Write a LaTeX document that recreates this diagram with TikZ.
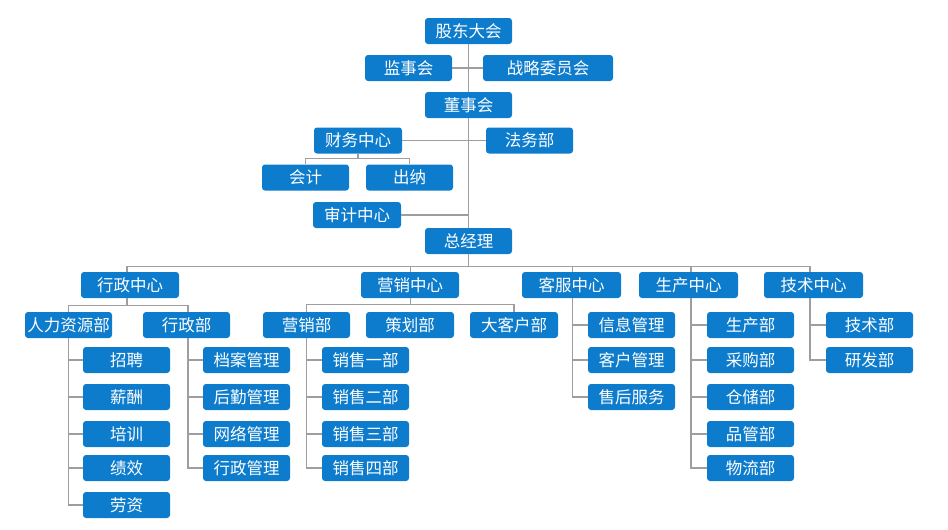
\documentclass[tikz,border=0pt]{standalone}
\usepackage{fontspec}
\setmainfont{Noto Sans CJK SC}
\definecolor{boxblue}{RGB}{14,124,204}
\definecolor{linegray}{RGB}{158,158,158}
\tikzset{
  box/.style={fill=boxblue, rounded corners=3pt, text=white,
    font=\fontsize{16.5}{18}\selectfont, minimum height=26pt, inner sep=0pt,
    text height=14.5pt, text depth=2pt, minimum width=87pt},
  wide/.style={minimum width=#1pt},
  conn/.style={draw=linegray, line width=1.3pt}
}
\begin{document}
\begin{tikzpicture}[x=1pt,y=-1pt]
\useasboundingbox (0,0) rectangle (948,530);
% top
\node[box] (gd) at (468.5,31) {股东大会};
\node[box] (jsh) at (408.5,68) {监事会};
\node[box,wide=130] (zl) at (548,68) {战略委员会};
\node[box] (ds) at (468.5,105) {董事会};
\node[box,wide=88] (cw) at (358,140.5) {财务中心};
\node[box] (fw) at (529.5,140.5) {法务部};
\node[box] (kj) at (305.5,177.5) {会计};
\node[box] (cn) at (409.5,177.5) {出纳};
\node[box,wide=88] (sj) at (357,215) {审计中心};
\node[box] (zjl) at (468.5,241) {总经理};
% level 2
\node[box,wide=98] (xz) at (130,285) {行政中心};
\node[box,wide=98] (yx) at (410,285) {营销中心};
\node[box,wide=99] (kf) at (571.5,285) {客服中心};
\node[box,wide=99] (sc) at (688.5,285) {生产中心};
\node[box,wide=99] (jz) at (813.5,285) {技术中心};
% level 3
\node[box] (hr) at (68.5,325) {人力资源部};
\node[box] (xzb) at (186.5,325) {行政部};
\node[box] (yxb) at (306.5,325) {营销部};
\node[box,wide=88] (ch) at (410,325) {策划部};
\node[box,wide=88] (dkh) at (514,325) {大客户部};
% HR children
\node[box] (hr1) at (126.5,360) {招聘};
\node[box] (hr2) at (126.5,397) {薪酬};
\node[box] (hr3) at (126.5,434) {培训};
\node[box] (hr4) at (126.5,468) {绩效};
\node[box] (hr5) at (126.5,505) {劳资};
% 行政部 children
\node[box] (xb1) at (246.5,360) {档案管理};
\node[box] (xb2) at (246.5,397) {后勤管理};
\node[box] (xb3) at (246.5,434) {网络管理};
\node[box] (xb4) at (246.5,468) {行政管理};
% 营销部 children
\node[box] (yb1) at (365.5,360) {销售一部};
\node[box] (yb2) at (365.5,397) {销售二部};
\node[box] (yb3) at (365.5,434) {销售三部};
\node[box] (yb4) at (365.5,468) {销售四部};
% 客服 children
\node[box] (kf1) at (631.5,325) {信息管理};
\node[box] (kf2) at (631.5,360) {客户管理};
\node[box] (kf3) at (631.5,397) {售后服务};
% 生产 children
\node[box] (sc1) at (750.5,325) {生产部};
\node[box] (sc2) at (750.5,360) {采购部};
\node[box] (sc3) at (750.5,397) {仓储部};
\node[box] (sc4) at (750.5,434) {品管部};
\node[box] (sc5) at (750.5,468) {物流部};
% 技术 children
\node[box] (jz1) at (869.5,325) {技术部};
\node[box] (jz2) at (869.5,360) {研发部};

% connectors: trunk
\draw[conn] (gd.south) -- (ds.north);
\draw[conn] (jsh.east) -- (zl.west);
\draw[conn] (ds.south) -- (zjl.north);
\draw[conn] (cw.east) -- (fw.west);
\draw[conn] (sj.east) -- (sj.east -| zjl.north);
\draw[conn] (cw.south) -- ++(0,4.5) coordinate (cwb);
\draw[conn] (cwb) -| (kj.north);
\draw[conn] (cwb) -| (cn.north);
% level 2 bus
\draw[conn] (zjl.south) -- ++(0,12) coordinate (bus);
\draw[conn] ([xshift=-3pt]xz.north) |- (bus);
\draw[conn] (bus) -| ([xshift=-3.5pt]jz.north);
\draw[conn] (bus) -| ([xshift=0.7pt]yx.north);
\draw[conn] (bus) -| ([xshift=1pt]kf.north);
\draw[conn] (bus) -| ([xshift=2.5pt]sc.north);
% level 3 buses
\draw[conn] ([xshift=-3pt]xz.south) -- ++(0,7.5) coordinate (xzb0);
\draw[conn] (xzb0) -| (hr.north);
\draw[conn] (xzb0) -| ([xshift=1.5pt]xzb.north);
\draw[conn] ([xshift=0.7pt]yx.south) -- ++(0,6.5) coordinate (yxb0);
\draw[conn] (yxb0) -| (yxb.north);
\draw[conn] (yxb0) -| (dkh.north);
% vertical lists
\foreach \c in {hr1,hr2,hr3,hr4,hr5} \draw[conn] (hr.south) |- (\c.west);
\foreach \c in {xb1,xb2,xb3,xb4} \draw[conn] ([xshift=1.5pt]xzb.south) |- (\c.west);
\foreach \c in {yb1,yb2,yb3,yb4} \draw[conn] (yxb.south) |- (\c.west);
\foreach \c in {kf1,kf2,kf3} \draw[conn] ([xshift=1pt]kf.south) |- (\c.west);
\foreach \c in {sc1,sc2,sc3,sc4,sc5} \draw[conn] ([xshift=2.5pt]sc.south) |- (\c.west);
\foreach \c in {jz1,jz2} \draw[conn] ([xshift=-3.5pt]jz.south) |- (\c.west);
\end{tikzpicture}
\end{document}
